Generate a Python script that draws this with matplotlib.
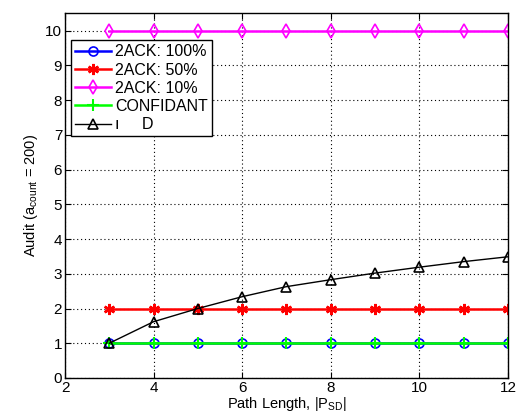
#!/usr/bin/env python3
"""Audit count versus path length for 2ACK, CONFIDANT and the proposed scheme."""

import matplotlib
matplotlib.use("Agg")
import matplotlib.pyplot as plt

path_len = [3, 4, 5, 6, 7, 8, 9, 10, 11, 12]
ack_100 = [1, 1, 1, 1, 1, 1, 1, 1, 1, 1]
ack_50 = [2, 2, 2, 2, 2, 2, 2, 2, 2, 2]
ack_10 = [10, 10, 10, 10, 10, 10, 10, 10, 10, 10]
confidant = [1, 1, 1, 1, 1, 1, 1, 1, 1, 1]
ids = [1.0, 1.62, 2.0, 2.34, 2.63, 2.83, 3.02, 3.19, 3.35, 3.49]

plt.rcParams.update({
    "font.family": ["Liberation Sans", "DejaVu Sans"],
    "font.size": 10.5,
})

fig = plt.figure(figsize=(5.18, 4.19), dpi=100)
ax = fig.add_axes([0.1255, 0.098, 0.855, 0.87])

ax.plot(path_len, ack_100, color="#0000ff", lw=1.8, marker="o", ms=6.5,
        mfc="none", mew=1.2, label="2ACK: 100%")
ax.plot(path_len, ack_50, color="#ff0000", lw=1.8, marker=(6, 2, 0), ms=8,
        mew=1.8, label="2ACK: 50%")
ax.plot(path_len, ack_10, color="#ff00ff", lw=1.8, marker="d", ms=7.5,
        mfc="none", mew=1.2, label="2ACK: 10%")
ax.plot(path_len, confidant, color="#00ff00", lw=1.8, marker="+", ms=8,
        mew=1.5, label="CONFIDANT")
ax.plot(path_len, ids, color="black", lw=1.0, marker="^", ms=7.5,
        mfc="none", mew=1.2, label="ı     D")

ax.set_xlim(2, 12)
ax.set_ylim(0, 10.5)
ax.set_xticks([2, 4, 6, 8, 10, 12])
ax.set_yticks(range(0, 11))
ax.grid(True, color="black", linestyle=(0, (1, 2.5)), linewidth=0.8)
ax.tick_params(direction="in", top=True, right=True, length=4, pad=2,
               labelsize=11)
for spine in ax.spines.values():
    spine.set_linewidth(1.0)

ax.set_xlabel(r"Path Length, |P$_{\mathregular{SD}}$|", labelpad=0)
ax.set_ylabel(r"Audit (a$_{\mathregular{count}}$ = 200)", labelpad=4)

leg = ax.legend(loc="upper left", bbox_to_anchor=(0.013, 0.926), fancybox=False,
                edgecolor="black", framealpha=1, borderpad=0.25,
                labelspacing=0.2, handlelength=2.3, handletextpad=0.25,
                borderaxespad=0, fontsize=11.5)
leg.get_frame().set_linewidth(1.0)

fig.savefig("out.png", dpi=100, facecolor="white")
